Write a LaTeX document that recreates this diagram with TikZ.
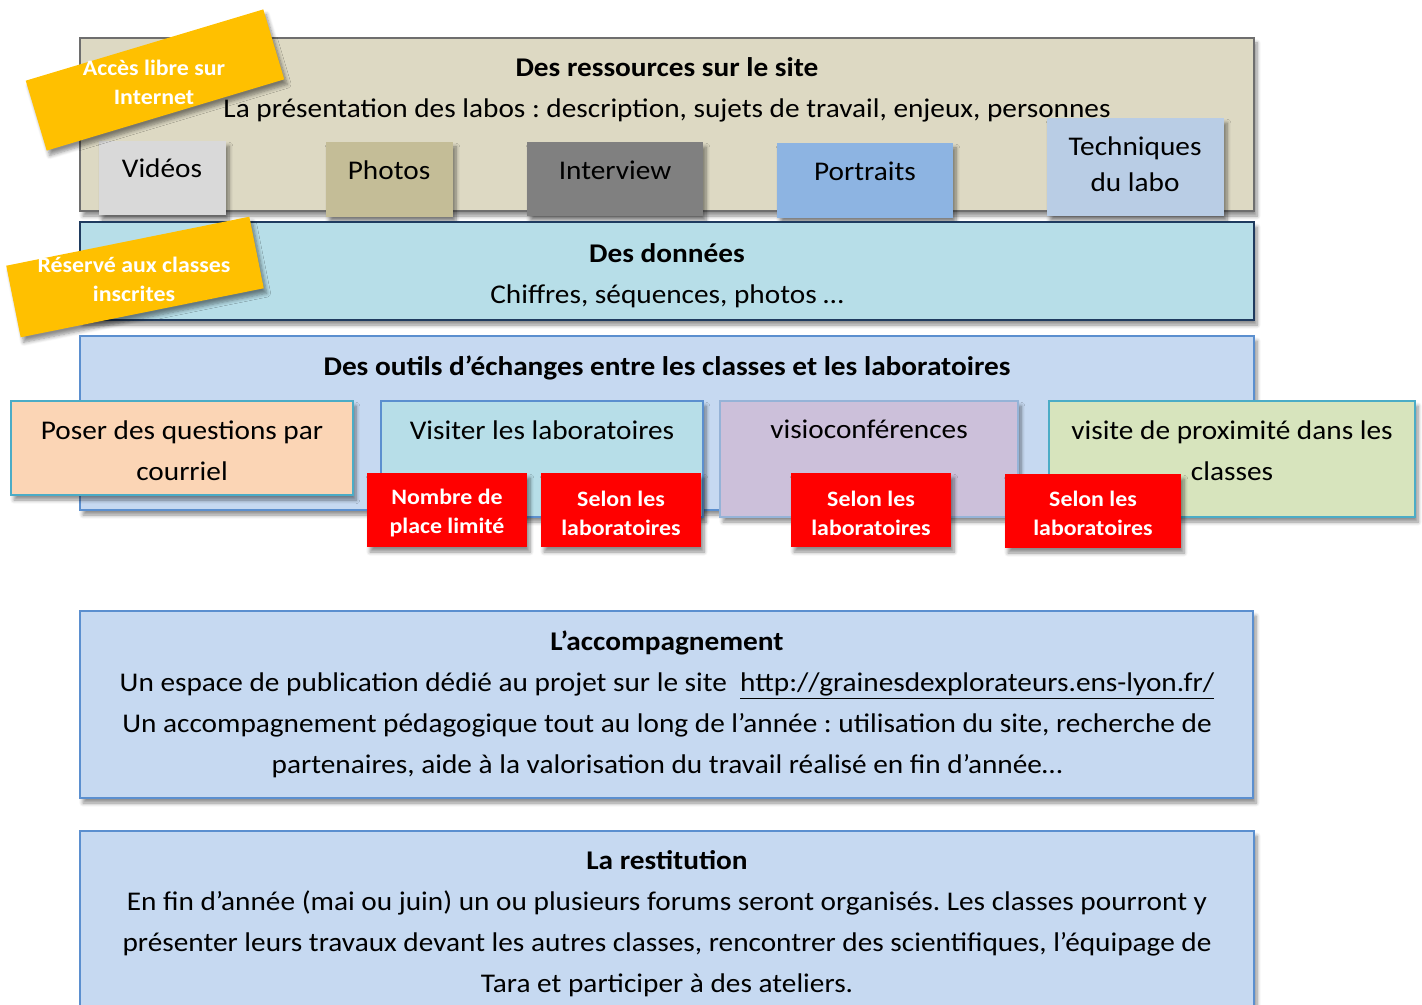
\documentclass[tikz,border=0pt]{standalone}
\usepackage{fontspec}
\setmainfont{Carlito}[FakeStretch=1.085]
\frenchspacing
\usetikzlibrary{fit, shadows.blur}
\definecolor{sand}{HTML}{DDD9C3}
\definecolor{sandline}{HTML}{6E6E6E}
\definecolor{vidgray}{HTML}{D9D9D9}
\definecolor{khaki}{HTML}{C4BD97}
\definecolor{midgray}{HTML}{808080}
\definecolor{skyblue}{HTML}{8DB4E2}
\definecolor{paleblue}{HTML}{B9CDE5}
\definecolor{aqua}{HTML}{B7DEE8}
\definecolor{navy}{HTML}{1F3B5F}
\definecolor{ice}{HTML}{C6D9F1}
\definecolor{steel}{HTML}{5B8FCF}
\definecolor{peach}{HTML}{FBD5B5}
\definecolor{teal}{HTML}{4BACC6}
\definecolor{lilac}{HTML}{CCC0DA}
\definecolor{lilacline}{HTML}{95B3D7}
\definecolor{sage}{HTML}{D7E4BD}
\definecolor{amber}{HTML}{FFC000}
\tikzset{
 txt/.style={font=\fontsize{13.5}{20.5}\selectfont, align=center, inner sep=0pt},
 tagtxt/.style={font=\fontsize{11}{14.5}\selectfont\bfseries, text=white, align=center, inner sep=0pt},
 dropped/.style={blur shadow={shadow xshift=1.5pt, shadow yshift=-2.5pt, shadow blur steps=6, shadow opacity=45}},
 panel/.style 2 args={draw=#1, fill=#2, line width=1pt, inner sep=0pt, dropped},
 tile/.style={fill=#1, inner sep=0pt, dropped},
 redtag/.style={fill=red, inner sep=0pt, dropped},
 banner/.style={fill=amber, inner sep=0pt, minimum width=124pt, minimum height=36.5pt, dropped}
}
\begin{document}
\begin{tikzpicture}[x=0.5pt, y=-0.5pt]
\useasboundingbox (0,0) rectangle (1422,1005);

\node[panel={sandline}{sand}, fit={(80,38) (1254,211)}] (res) {};
\node[txt] (restxt) at (667,90) {\textbf{Des ressources sur le site}\\La présentation des labos : description, sujets de travail, enjeux, personnes};
\node[tile=vidgray, fit={(99,141) (226,215)}] (vid) {};
\node[txt] (vidtxt) at (162,168) {Vidéos};
\node[tile=khaki, fit={(326,142) (453,217)}] (pho) {};
\node[txt] (photxt) at (389,170) {Photos};
\node[tile=midgray, fit={(527,142) (703,216)}] (itw) {};
\node[txt] (itwtxt) at (615,170) {Interview};
\node[tile=skyblue, fit={(777,143) (953,218)}] (por) {};
\node[txt] (portxt) at (865,171) {Portraits};
\node[tile=paleblue, fit={(1047,118) (1224,216)}] (tec) {};
\node[txt, font=\fontsize{13.5}{18}\selectfont] (tectxt) at (1135,164) {Techniques\\du labo};

\node[panel={navy}{aqua}, fit={(80,222) (1254,320)}] (don) {};
\node[txt] (dontxt) at (667,275.5) {\textbf{Des données}\\Chiffres, séquences, photos …};

\node[banner, rotate=16.7] (libre) at (155,80) {};
\node[tagtxt] (libretxt) at (154,82) {Accès libre sur\\Internet};
\node[banner, rotate=11.4] (inscr) at (135,277) {};
\node[tagtxt] (inscrtxt) at (134,279) {Réservé aux classes\\inscrites};

\node[panel={steel}{ice}, fit={(80,336) (1254,510)}] (out) {};
\node[txt] (outtxt) at (667,368) {\textbf{Des outils d’échanges entre les classes et les laboratoires}};
\node[panel={teal}{peach}, fit={(11,401) (353,495)}] (pos) {};
\node[txt] (postxt) at (182,451) {Poser des questions par\\courriel};
\node[panel={steel}{aqua}, fit={(381,401) (703,517)}] (vis) {};
\node[txt] (vistxt) at (542,430) {Visiter les laboratoires};
\node[panel={lilacline}{lilac}, fit={(720,401) (1018,517)}] (vio) {};
\node[txt] (viotxt) at (869,429) {visioconférences};
\node[panel={teal}{sage}, fit={(1049,401) (1415,517)}] (prox) {};
\node[txt] (proxtxt) at (1232,451) {visite de proximité dans les\\classes};

\node[redtag, fit={(367,473) (527,547)}] (lim) {};
\node[tagtxt] (limtxt) at (447,513) {Nombre de\\place limité};
\node[redtag, fit={(541,473) (701,547)}] (sel1) {};
\node[tagtxt] (sel1txt) at (621,513) {Selon les\\laboratoires};
\node[redtag, fit={(791,473) (951,547)}] (sel2) {};
\node[tagtxt] (sel2txt) at (871,513) {Selon les\\laboratoires};
\node[redtag, fit={(1005,474) (1181,548)}] (sel3) {};
\node[tagtxt] (sel3txt) at (1093,513) {Selon les\\laboratoires};

\node[panel={steel}{ice}, fit={(80,611) (1253,798)}] (acc) {};
\node[txt] (acctxt) at (667,704) {\textbf{L’accompagnement}\\Un espace de publication dédié au projet sur le site\ \ \underline{http://grainesdexplorateurs.ens-lyon.fr/}\\Un accompagnement pédagogique tout au long de l’année : utilisation du site, recherche de\\partenaires, aide à la valorisation du travail réalisé en fin d’année…};

\node[panel={steel}{ice}, fit={(80,831) (1254,1030)}] (resti) {};
\node[txt] (restitxt) at (667,924) {\textbf{La restitution}\\En fin d’année (mai ou juin) un ou plusieurs forums seront organisés. Les classes pourront y\\présenter leurs travaux devant les autres classes, rencontrer des scientifiques, l’équipage de\\Tara et participer à des ateliers.};
\end{tikzpicture}
\end{document}
